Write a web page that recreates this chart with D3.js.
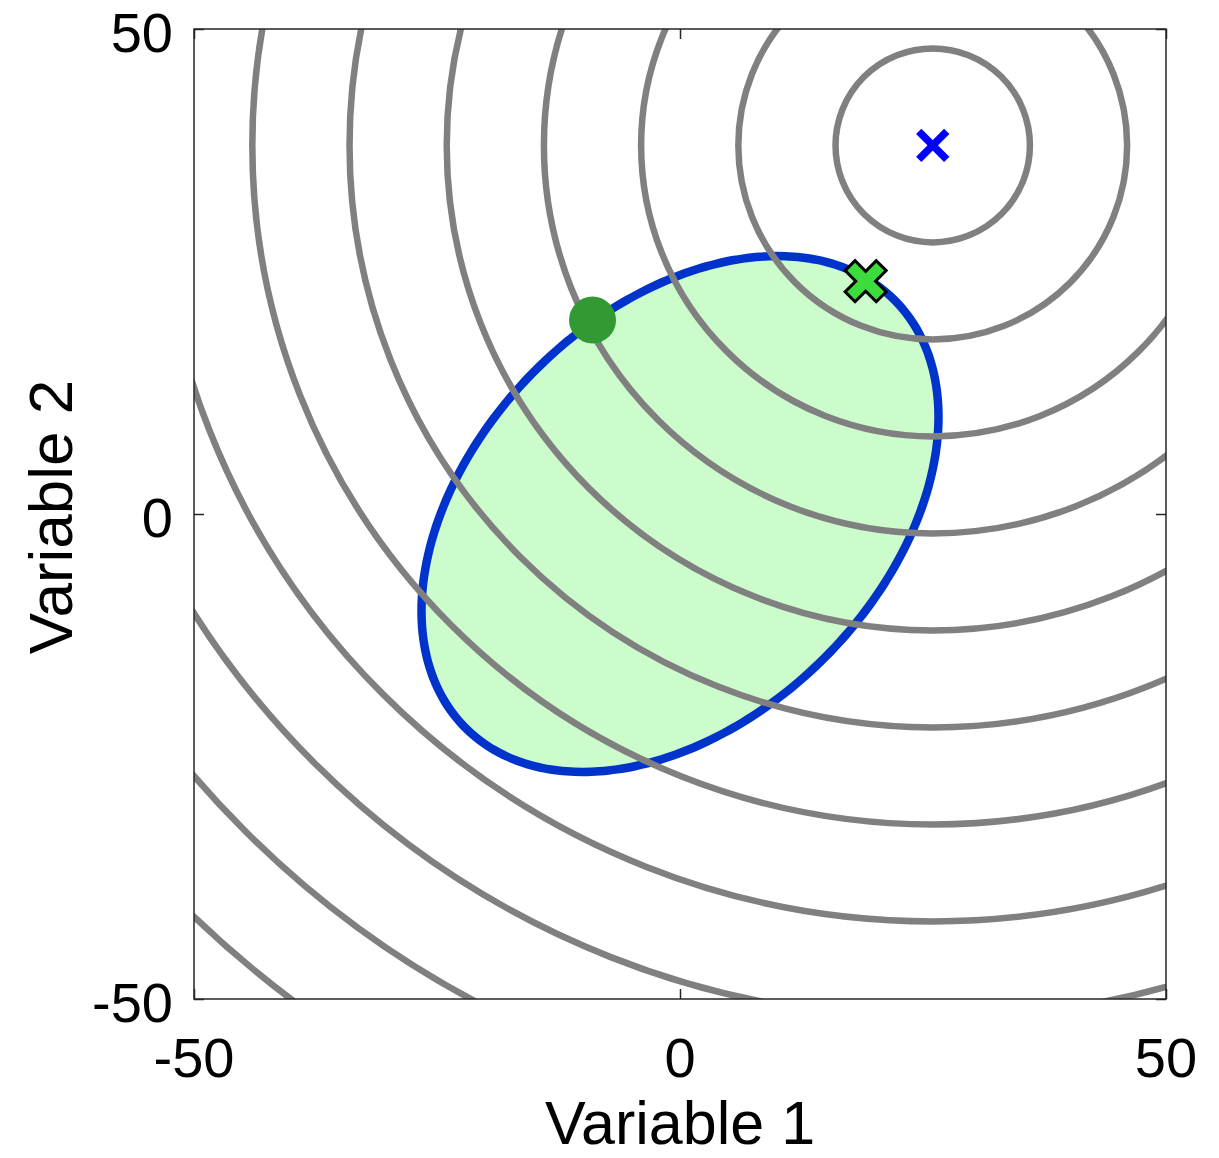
<!DOCTYPE html>
<html>
<head>
<meta charset="utf-8">
<script src="https://cdn.jsdelivr.net/npm/d3@7"></script>
<style>
    body { margin: 0; background: #fff; }
    svg text { font-family: "Liberation Sans", Arial, sans-serif; fill: #000; }
</style>
</head>
<body>
<div id="chart"></div>
<script>
// Chart data
var xTicks = [-50, 0, 50];
var yTicks = [-50, 0, 50];
var xDomain = [-50, 50];
var yDomain = [-50, 50];

// Circular contours of the objective, centred on the unconstrained optimum
var contourCenter = [26, 38];
var contourRadii = [10, 20, 30, 40, 50, 60, 70, 80, 90, 100, 110];

// Feasible region (ellipse): centre, semi-axes, rotation in degrees
var ellipseCenter = [0, 0];
var ellipseAxes = [31.2, 21];
var ellipseAngle = 45;

// Markers
var unconstrainedOpt = [26, 38];
var startPoint = [-9, 20];
var constrainedOpt = [19.1, 24];

// Layout
var width = 1219, height = 1158;
var plot = { left: 194, right: 1166, top: 29, bottom: 999 };

var svg = d3.select("#chart").append("svg")
    .attr("width", width)
    .attr("height", height);

var x = d3.scaleLinear().domain(xDomain).range([plot.left, plot.right]);
var y = d3.scaleLinear().domain(yDomain).range([plot.bottom, plot.top]);

// Clip to the axes box
svg.append("defs").append("clipPath")
    .attr("id", "plotClip")
    .append("rect")
    .attr("x", plot.left)
    .attr("y", plot.top)
    .attr("width", plot.right - plot.left)
    .attr("height", plot.bottom - plot.top);

var plotG = svg.append("g").attr("clip-path", "url(#plotClip)");

// Ellipse path built through the scales
var theta = ellipseAngle * Math.PI / 180;
var angles = d3.range(0, 360, 2).map(function(d) { return d * Math.PI / 180; });
var ellipseLine = d3.line()
    .x(function(t) {
        var u = ellipseAxes[0] * Math.cos(t), v = ellipseAxes[1] * Math.sin(t);
        return x(ellipseCenter[0] + u * Math.cos(theta) - v * Math.sin(theta));
    })
    .y(function(t) {
        var u = ellipseAxes[0] * Math.cos(t), v = ellipseAxes[1] * Math.sin(t);
        return y(ellipseCenter[1] + u * Math.sin(theta) + v * Math.cos(theta));
    })
    .curve(d3.curveCardinalClosed);

plotG.append("path")
    .datum(angles)
    .attr("d", ellipseLine)
    .attr("fill", "#ccfccc")
    .attr("stroke", "#0033cc")
    .attr("stroke-width", 8.5);

// Contours (drawn over the ellipse)
plotG.selectAll("ellipse.contour")
    .data(contourRadii)
    .enter().append("ellipse")
    .attr("class", "contour")
    .attr("cx", x(contourCenter[0]))
    .attr("cy", y(contourCenter[1]))
    .attr("rx", function(r) { return x(contourCenter[0] + r) - x(contourCenter[0]); })
    .attr("ry", function(r) { return y(contourCenter[1]) - y(contourCenter[1] + r); })
    .attr("fill", "none")
    .attr("stroke", "#808080")
    .attr("stroke-width", 6.5);

// Start point (dark green dot)
plotG.append("circle")
    .attr("cx", x(startPoint[0]))
    .attr("cy", y(startPoint[1]))
    .attr("r", 23.5)
    .attr("fill", "#339933");

// Constrained optimum: filled cross with black outline
var arm = 22, half = 7;
var crossPts = [
    [-half, -arm], [half, -arm], [half, -half], [arm, -half], [arm, half], [half, half],
    [half, arm], [-half, arm], [-half, half], [-arm, half], [-arm, -half], [-half, -half]
];
plotG.append("path")
    .attr("d", "M" + crossPts.map(function(p) { return p.join(","); }).join("L") + "Z")
    .attr("transform", "translate(" + x(constrainedOpt[0]) + "," + y(constrainedOpt[1]) + ") rotate(45)")
    .attr("fill", "#3ddc3d")
    .attr("stroke", "#000")
    .attr("stroke-width", 3)
    .attr("stroke-linejoin", "miter");

// Unconstrained optimum: blue x
var bx = x(unconstrainedOpt[0]), by = y(unconstrainedOpt[1]), s = 14;
plotG.append("path")
    .attr("d", "M" + (bx - s) + "," + (by - s) + "L" + (bx + s) + "," + (by + s) +
               "M" + (bx - s) + "," + (by + s) + "L" + (bx + s) + "," + (by - s))
    .attr("stroke", "#0000ff")
    .attr("stroke-width", 7.5)
    .attr("fill", "none");

// Axes box with inward ticks on all sides
var tickLen = 10;
var axisG = svg.append("g");
axisG.append("g")
    .attr("transform", "translate(0," + plot.bottom + ")")
    .call(d3.axisTop(x).tickValues(xTicks).tickSize(tickLen).tickFormat(""));
axisG.append("g")
    .attr("transform", "translate(0," + plot.top + ")")
    .call(d3.axisBottom(x).tickValues(xTicks).tickSize(tickLen).tickFormat(""));
axisG.append("g")
    .attr("transform", "translate(" + plot.left + ",0)")
    .call(d3.axisRight(y).tickValues(yTicks).tickSize(tickLen).tickFormat(""));
axisG.append("g")
    .attr("transform", "translate(" + plot.right + ",0)")
    .call(d3.axisLeft(y).tickValues(yTicks).tickSize(tickLen).tickFormat(""));
axisG.selectAll("path.domain").remove();
axisG.selectAll("line").attr("stroke", "#262626").attr("stroke-width", 1.5);

axisG.append("rect")
    .attr("x", plot.left)
    .attr("y", plot.top)
    .attr("width", plot.right - plot.left)
    .attr("height", plot.bottom - plot.top)
    .attr("fill", "none")
    .attr("stroke", "#262626")
    .attr("stroke-width", 1.5);

// Tick labels
svg.selectAll("text.xtick")
    .data(xTicks)
    .enter().append("text")
    .attr("class", "xtick")
    .attr("x", function(d) { return x(d); })
    .attr("y", plot.bottom + 78)
    .attr("text-anchor", "middle")
    .style("font-size", "56px")
    .text(function(d) { return d; });

svg.selectAll("text.ytick")
    .data(yTicks)
    .enter().append("text")
    .attr("class", "ytick")
    .attr("x", plot.left - 21)
    .attr("y", function(d) { return y(d) + 23; })
    .attr("text-anchor", "end")
    .style("font-size", "56px")
    .text(function(d) { return d; });

// Axis labels
svg.append("text")
    .attr("x", (plot.left + plot.right) / 2)
    .attr("y", 1144)
    .attr("text-anchor", "middle")
    .style("font-size", "61px")
    .text("Variable 1");

svg.append("text")
    .attr("transform", "translate(72," + ((plot.top + plot.bottom) / 2 + 3) + ") rotate(-90)")
    .attr("text-anchor", "middle")
    .style("font-size", "62px")
    .text("Variable 2");
</script>
</body>
</html>
